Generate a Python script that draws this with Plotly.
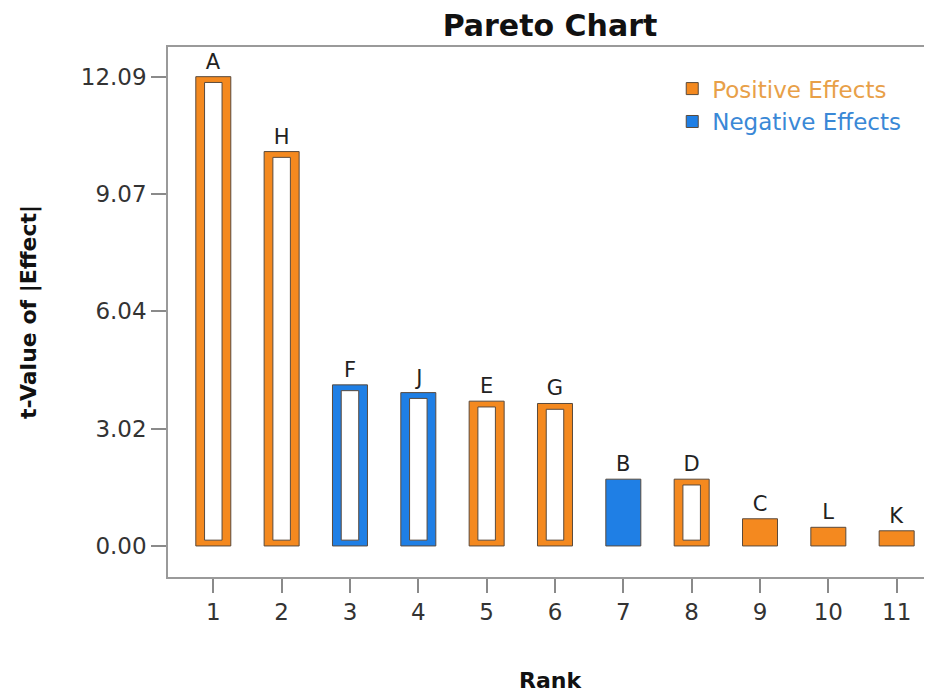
import plotly.graph_objects as go

# ---------------- data ----------------
ranks = [1, 2, 3, 4, 5, 6, 7, 8, 9, 10, 11]
effect_labels = ["A", "H", "F", "J", "E", "G", "B", "D", "C", "L", "K"]
t_values = [12.09, 10.16, 4.15, 3.95, 3.73, 3.67, 1.72, 1.72, 0.70, 0.48, 0.39]
effect_sign = ["+", "+", "-", "-", "+", "+", "-", "+", "+", "+", "+"]
hollow = [True, True, True, True, True, True, False, True, False, False, False]
y_tick_values = [0.0, 3.0225, 6.045, 9.0675, 12.09]
y_tick_labels = ["0.00", "3.02", "6.04", "9.07", "12.09"]

# ---------------- style ----------------
ORANGE = "#F4891F"
BLUE = "#1F7FE5"
ORANGE_TXT = "#E8A048"
BLUE_TXT = "#3A88D6"
OUTLINE = "#5a4a3c"
FONT = "DejaVu Sans"

# page body has an 8px margin, so the figure is 8px smaller than the window
W, H = 924, 685
ML, MR, MT, MB = 160, 0, 39, 116
X_RANGE = [0.337, 11.517]
Y_RANGE = [-0.80, 12.854]
plot_w = W - ML - MR
plot_h = H - MT - MB
px_x = plot_w / (X_RANGE[1] - X_RANGE[0])
px_y = plot_h / (Y_RANGE[1] - Y_RANGE[0])

outer_w = 35 / px_x
inner_w = 17.5 / px_x
inset_y = 5.8 / px_y

fig = go.Figure()

for sign, color, tcolor, name in [("+", ORANGE, ORANGE_TXT, "Positive Effects"),
                                  ("-", BLUE, BLUE_TXT, "Negative Effects")]:
    idx = [i for i, s in enumerate(effect_sign) if s == sign]
    fig.add_trace(go.Bar(
        x=[ranks[i] for i in idx],
        y=[t_values[i] for i in idx],
        text=[effect_labels[i] for i in idx],
        textposition="outside",
        textfont=dict(family=FONT, size=21, color="#222222"),
        cliponaxis=False,
        width=outer_w,
        marker=dict(color=color, line=dict(color=OUTLINE, width=1)),
        name=f"<span style='color:{tcolor}'>{name}</span>",
        hoverinfo="x+y",
    ))

hidx = [i for i, h in enumerate(hollow) if h]
fig.add_trace(go.Bar(
    x=[ranks[i] for i in hidx],
    y=[t_values[i] - 2 * inset_y for i in hidx],
    base=[inset_y for _ in hidx],
    width=inner_w,
    marker=dict(color="white", line=dict(color=OUTLINE, width=1)),
    showlegend=False,
    hoverinfo="skip",
))

fig.update_layout(
    width=W, height=H, autosize=False,
    margin=dict(l=ML, r=MR, t=MT, b=MB),
    paper_bgcolor="white", plot_bgcolor="white",
    barmode="overlay",
    title=dict(text="Pareto Chart", x=0.5, xref="paper", xanchor="center",
               y=1 - 17 / H, yref="container", yanchor="middle",
               font=dict(family=FONT, size=30, color="#111111", weight="bold")),
    legend=dict(x=0.66, y=0.962, xanchor="left", yanchor="top",
                font=dict(family=FONT, size=23),
                bgcolor="rgba(0,0,0,0)", tracegroupgap=0),
    font=dict(family=FONT),
)

fig.update_xaxes(
    range=X_RANGE, tickvals=ranks, ticktext=[str(r) for r in ranks],
    ticks="outside", ticklen=14, tickwidth=1.5, tickcolor="#8a8a8a",
    showline=True, linecolor="#9a9a9a", linewidth=1.5, mirror=True,
    showgrid=False, zeroline=False,
    tickfont=dict(family=FONT, size=23, color="#333333"),
    title=dict(text="Rank", standoff=48,
               font=dict(family=FONT, size=22, color="#111111", weight="bold")),
)
fig.update_yaxes(
    range=Y_RANGE, tickvals=y_tick_values, ticktext=y_tick_labels,
    ticks="outside", ticklen=15, tickwidth=1.5, tickcolor="#8a8a8a",
    showline=True, linecolor="#9a9a9a", linewidth=1.5, mirror=False,
    showgrid=False, zeroline=False,
    tickfont=dict(family=FONT, size=23, color="#333333"),
    title=dict(text="t-Value of |Effect|", standoff=38,
               font=dict(family=FONT, size=22, color="#111111", weight="bold")),
)

fig.write_html("out.html")
